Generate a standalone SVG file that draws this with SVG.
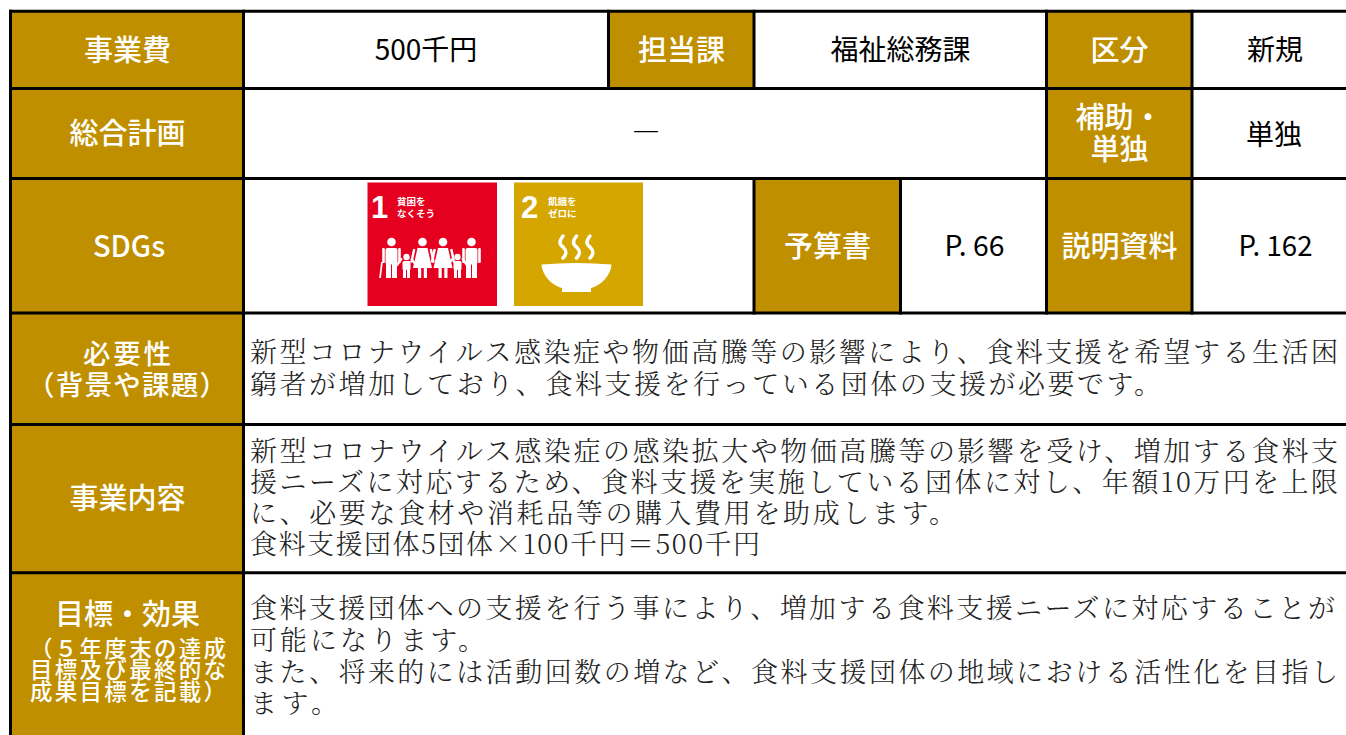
<svg xmlns="http://www.w3.org/2000/svg" width="1346" height="735" viewBox="0 0 1346 735">
<style>
.hd{font-family:"Noto Sans CJK JP","Noto Sans",sans-serif;font-size:29px;font-weight:500;fill:#fff;text-anchor:middle}
.hm{font-family:"Noto Sans CJK JP","Noto Sans",sans-serif;font-size:27.5px;font-weight:500;fill:#fff;text-anchor:middle}
.hs{font-family:"Noto Sans CJK JP","Noto Sans",sans-serif;font-size:22.5px;font-weight:500;fill:#fff;text-anchor:middle}
.val{font-family:"Noto Sans CJK JP","Noto Sans",sans-serif;font-size:28px;fill:#000;text-anchor:middle}
.body{font-family:"Noto Serif CJK JP","Liberation Serif","Noto Sans CJK JP",serif;font-size:27px;font-weight:300;fill:#222}
.gold{fill:#BF8F00}
.grid line{stroke:#000;stroke-width:3;stroke-linecap:square}
.num{font-family:"Liberation Sans",Arial,sans-serif;font-weight:bold;font-size:31px;fill:#fff}
.sdgt{font-family:"Noto Sans CJK JP",sans-serif;font-weight:bold;font-size:9.5px;fill:#fff}
.w{fill:#fff}
</style>
<defs>
<g id="man">
<circle cx="0" cy="-36" r="4.3"/>
<rect x="-6" y="-30" width="12" height="16.5" rx="2"/>
<rect x="-9.3" y="-30" width="2.6" height="15" rx="1"/>
<rect x="6.7" y="-30" width="2.6" height="15" rx="1"/>
<rect x="-5.5" y="-14.5" width="5" height="14.5"/>
<rect x="0.5" y="-14.5" width="5" height="14.5"/>
</g>
<g id="woman">
<circle cx="0" cy="-36" r="4.3"/>
<path d="M-5,-30 L5,-30 L9.5,-10 L-9.5,-10 Z"/>
<rect x="-9.5" y="-29" width="2.5" height="14" rx="1" transform="rotate(12 -8 -29)"/>
<rect x="7" y="-29" width="2.5" height="14" rx="1" transform="rotate(-12 8 -29)"/>
<rect x="-4.5" y="-10.5" width="3.2" height="10.5"/>
<rect x="1.3" y="-10.5" width="3.2" height="10.5"/>
</g>
<g id="child">
<circle cx="0" cy="-21" r="3.2"/>
<rect x="-4" y="-17" width="8" height="9" rx="1.5"/>
<rect x="-7.5" y="-20" width="2.2" height="9" rx="1" transform="rotate(35 -6 -17)"/>
<rect x="5.3" y="-20" width="2.2" height="9" rx="1" transform="rotate(-35 6 -17)"/>
<rect x="-3.5" y="-8.5" width="3" height="8.5"/>
<rect x="0.5" y="-8.5" width="3" height="8.5"/>
</g>
</defs>
<rect x="0" y="0" width="1346" height="735" fill="#fff"/>

<g id="backgrounds">
<rect class="gold" x="10.5" y="11.3" width="233" height="724"/>
<rect class="gold" x="608.5" y="11.3" width="145.5" height="77.2"/>
<rect class="gold" x="1046.5" y="11.3" width="145.5" height="301.7"/>
<rect class="gold" x="754" y="178.5" width="146.5" height="134.5"/>
</g>

<g id="row-jigyohi">
<text class="hd" x="127.5" y="60.5">事業費</text>
<text class="val" x="426" y="60">500千円</text>
</g>
<g id="row-tanto">
<text class="hd" x="681.5" y="60.5">担当課</text>
<text class="val" x="900.5" y="60">福祉総務課</text>
</g>
<g id="row-kubun">
<text class="hd" x="1119.5" y="60.5">区分</text>
<text class="val" x="1275" y="60">新規</text>
</g>
<g id="row-sogo">
<text class="hd" x="127.5" y="144">総合計画</text>
<text class="val" x="646" y="143" font-weight="bold">―</text>
</g>
<g id="row-hojo">
<text class="hd" x="1119" y="127.5">補助・</text>
<text class="hd" x="1119.5" y="159.5">単独</text>
<text class="val" x="1274" y="144.5">単独</text>
</g>
<g id="row-sdgs">
<text class="hd" x="129" y="256.5">SDGs</text>
<g id="sdg1">
<rect x="367.5" y="182.5" width="129.5" height="123.5" fill="#E4001E"/>
<text class="num" x="371" y="217.7">1</text>
<text class="sdgt" x="397" y="205">貧困を</text>
<text class="sdgt" x="397" y="217">なくそう</text>
<g class="w" transform="translate(367,278)">
<use href="#man" x="24.5"/>
<line x1="15" y1="-16" x2="13" y2="0" stroke="#fff" stroke-width="1.8"/>
<use href="#child" x="39.5"/>
<use href="#woman" x="55.5"/>
<use href="#woman" x="76"/>
<use href="#child" x="90.5"/>
<use href="#man" x="104.5"/>
</g>
</g>
<g id="sdg2">
<rect x="514" y="182.5" width="129" height="123.5" fill="#D5A600"/>
<text class="num" x="521" y="217.7">2</text>
<text class="sdgt" x="548" y="205">飢餓を</text>
<text class="sdgt" x="548" y="217">ゼロに</text>
<g fill="none" stroke="#fff" stroke-width="3.5" stroke-linecap="round">
<path d="M563,236 c-4,5 -4,8 0,11 c4,4 4,7 0,11"/>
<path d="M576.5,236 c-4,5 -4,8 0,11 c4,4 4,7 0,11"/>
<path d="M590,236 c-4,5 -4,8 0,11 c4,4 4,7 0,11"/>
</g>
<path class="w" d="M541.5,264.5 Q576.5,261.5 611.5,264.5 L611,268 C608,280 597,286.5 591,288 L591,292 L562,292 L562,288 C556,286.5 545,280 542,268 Z"/>
</g>
</g>
<g id="row-yosan">
<text class="hd" x="827.5" y="257">予算書</text>
<text class="val" x="974.5" y="255.5" textLength="60" lengthAdjust="spacingAndGlyphs">P. 66</text>
</g>
<g id="row-setsumei">
<text class="hd" x="1119.5" y="257">説明資料</text>
<text class="val" x="1275.5" y="255.5" textLength="74" lengthAdjust="spacingAndGlyphs">P. 162</text>
</g>
<g id="row-hitsuyo">
<text class="hm" x="127" y="363.5" textLength="88">必要性</text>
<text class="hm" x="127" y="395" textLength="200">（背景や課題）</text>
<text class="body" x="250" y="362" textLength="1088">新型コロナウイルス感染症や物価高騰等の影響により、食料支援を希望する生活困</text>
<text class="body" x="250" y="393.5" textLength="911">窮者が増加しており、食料支援を行っている団体の支援が必要です。</text>
</g>
<g id="row-naiyo">
<text class="hd" x="127.5" y="509">事業内容</text>
<text class="body" x="250" y="461" textLength="1088">新型コロナウイルス感染症の感染拡大や物価高騰等の影響を受け、増加する食料支</text>
<text class="body" x="250" y="492" textLength="1088">援ニーズに対応するため、食料支援を実施している団体に対し、年額10万円を上限</text>
<text class="body" x="250" y="523" textLength="706">に、必要な食材や消耗品等の購入費用を助成します。</text>
<text class="body" x="250" y="554" textLength="510">食料支援団体5団体×100千円＝500千円</text>
</g>
<g id="row-mokuhyo">
<text class="hd" x="127.5" y="625">目標・効果</text>
<text class="hs" x="128" y="656.5" textLength="196">（５年度末の達成</text>
<text class="hs" x="128" y="677.5" textLength="196">目標及び最終的な</text>
<text class="hs" x="128" y="699.5" textLength="196">成果目標を記載）</text>
<text class="body" x="250" y="618" textLength="1085">食料支援団体への支援を行う事により、増加する食料支援ニーズに対応することが</text>
<text class="body" x="250" y="650" textLength="235">可能になります。</text>
<text class="body" x="250" y="682" textLength="1088">また、将来的には活動回数の増など、食料支援団体の地域における活性化を目指し</text>
<text class="body" x="250" y="713" textLength="88">ます。</text>
</g>

<g id="grid" class="grid">
<line x1="10.5" y1="11.3" x2="1350" y2="11.3"/>
<line x1="10.5" y1="88.5" x2="1350" y2="88.5"/>
<line x1="10.5" y1="178.5" x2="1350" y2="178.5"/>
<line x1="10.5" y1="313" x2="1350" y2="313"/>
<line x1="10.5" y1="424.6" x2="1350" y2="424.6"/>
<line x1="10.5" y1="572.8" x2="1350" y2="572.8"/>
<line x1="10.5" y1="11.3" x2="10.5" y2="740"/>
<line x1="243.5" y1="11.3" x2="243.5" y2="740"/>
<line x1="608.5" y1="11.3" x2="608.5" y2="88.5"/>
<line x1="754" y1="11.3" x2="754" y2="88.5"/>
<line x1="754" y1="178.5" x2="754" y2="313"/>
<line x1="900.5" y1="178.5" x2="900.5" y2="313"/>
<line x1="1046.5" y1="11.3" x2="1046.5" y2="313"/>
<line x1="1192" y1="11.3" x2="1192" y2="313"/>
</g>
</svg>
